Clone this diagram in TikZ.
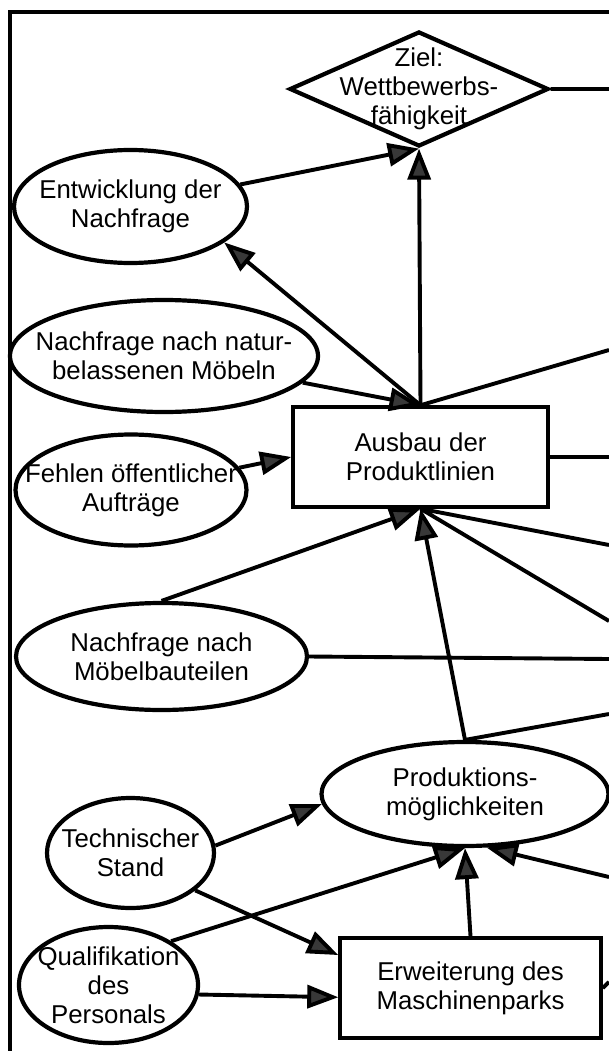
\documentclass[tikz,border=0pt]{standalone}
\usepackage{fontspec}
\setmainfont{Liberation Sans}
\usepackage{tikz}
\usetikzlibrary{shapes.geometric, arrows.meta, positioning}
\tikzset{
    >={Triangle[length=31pt, width=23pt, fill=black!78]},  % Filled triangle heads
    link/.style={line width=3.9pt},                        % Thickness of all lines
    every node/.style={font=\fontsize{25.8}{29}\selectfont, align=center},
    oval/.style={ellipse, draw, line width=4.2pt, inner sep=-40pt},  % Factors
    box/.style={rectangle, draw, line width=3.5pt},        % Measures
    goal/.style={diamond, draw, line width=4.2pt, inner sep=-40pt}   % The aim
}

\begin{document}
\begin{tikzpicture}[x=1pt, y=-1pt]
    \useasboundingbox (0,0) rectangle (609,1051);
    \draw [link] (10,1051) -- (10,12) -- (609,12);

    \node [goal, minimum width=259pt, minimum height=115pt] (ziel) at (419,89) {Ziel:\\Wettbewerbs-\\fähigkeit};
    \node [oval, minimum width=233pt, minimum height=113pt] (entw) at (130.5,206.5) {Entwicklung der\\Nachfrage};
    \node [oval, minimum width=308pt, minimum height=112pt] (natur) at (164,356) {Nachfrage nach natur-\\belassenen Möbeln};
    \node [box, minimum width=255pt, minimum height=100pt] (ausbau) at (420.5,457) {Ausbau der\\Produktlinien};
    \node [oval, minimum width=231pt, minimum height=111pt] (fehlen) at (131,490) {Fehlen öffentlicher\\Aufträge};
    \node [oval, minimum width=291pt, minimum height=107pt] (moebel) at (161.5,656.5) {Nachfrage nach\\Möbelbauteilen};
    \node [oval, minimum width=287pt, minimum height=104pt] (prod) at (465,794) {Produktions-\\möglichkeiten};
    \node [oval, minimum width=167pt, minimum height=110pt] (tech) at (130.5,853) {Technischer\\Stand};
    \node [oval, minimum width=179pt, minimum height=116pt] (qual) at (108.5,985) {Qualifikation\\des\\Personals};
    \node [box, minimum width=261pt, minimum height=100pt] (erw) at (470.5,988) {Erweiterung des\\Maschinenparks};

    \coordinate (rz) at (609,89);
    \coordinate (ra1) at (609,350);
    \coordinate (ra2) at (609,457);
    \coordinate (ra3) at (609,545);
    \coordinate (ra4) at (609,621);
    \coordinate (rm) at (609,659);
    \coordinate (rp1) at (609,714);
    \coordinate (rp2) at (609,877);
    \coordinate (re) at (609,982);

    \path [->, link] (entw) edge (ziel.south)
                     (ausbau.north) edge (ziel.south)
                     (ausbau.north) edge (entw.-21)
                     (natur) edge (ausbau.north)
                     (fehlen) edge (ausbau.west)
                     (moebel.north) edge (ausbau.south)
                     (prod.north) edge (ausbau.south)
                     (tech.5) edge (prod.184)
                     (tech.-30) edge (erw.166)
                     (qual.35) edge (prod.south)
                     (qual.-6) edge (erw.184)
                     (erw.north) edge (prod.south)
                     (rp2) edge (prod.-68);

    \draw [link] (ziel.east) -- (rz)
                 (ausbau.north) -- (ra1)
                 (ausbau.east) -- (ra2)
                 (ausbau.south) -- (ra3)
                 (ausbau.south) -- (ra4)
                 (moebel.east) -- (rm)
                 (prod.north) -- (rp1)
                 (erw.east) -- (re);
\end{tikzpicture}
\end{document}
